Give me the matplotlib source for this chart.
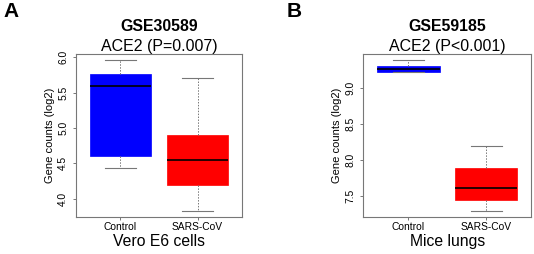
import matplotlib.pyplot as plt

plt.rcParams["font.family"] = ["Liberation Sans", "DejaVu Sans"]

GROUPS = ["Control", "SARS-CoV"]
BOX_COLORS = ["#0000ff", "#ff0000"]

# panel A: GSE30589, Vero E6 cells
A_WHISLO = [4.43, 3.83]
A_Q1 = [4.61, 4.19]
A_MED = [5.60, 4.54]
A_Q3 = [5.77, 4.90]
A_WHISHI = [5.96, 5.70]
A_YTICKS = [4.0, 4.5, 5.0, 5.5, 6.0]

# panel B: GSE59185, mice lungs
B_WHISLO = [9.22, 7.30]
B_Q1 = [9.225, 7.45]
B_MED = [9.27, 7.61]
B_Q3 = [9.315, 7.89]
B_WHISHI = [9.39, 8.20]
B_YTICKS = [7.5, 8.0, 8.5, 9.0]

GRAY = "#777777"


def draw(ax, whislo, q1, med, q3, whishi, yticks, gse, subtitle, xlabel):
    stats = [dict(whislo=lo, q1=a, med=m, q3=b, whishi=hi, fliers=[])
             for lo, a, m, b, hi in zip(whislo, q1, med, q3, whishi)]
    bp = ax.bxp(stats, positions=[1, 2], widths=0.8, patch_artist=True,
                showfliers=False,
                medianprops=dict(color="black", lw=1.2),
                whiskerprops=dict(color=GRAY, lw=0.7, linestyle=(0, (1.5, 1.5))),
                capprops=dict(color=GRAY, lw=0.8))
    for patch, col in zip(bp["boxes"], BOX_COLORS):
        patch.set_facecolor(col)
        patch.set_edgecolor(col)
        patch.set_linewidth(0.5)
    lo, hi = min(whislo), max(whishi)
    pad = (hi - lo) * 0.04
    ax.set_ylim(lo - pad, hi + pad)
    ax.set_xlim(0.42, 2.58)
    ax.set_yticks(yticks)
    ax.set_yticklabels([f"{t:.1f}" for t in yticks], rotation=90, va="center",
                       fontsize=7.4)
    ax.set_xticks([1, 2])
    ax.set_xticklabels(GROUPS, fontsize=7.4)
    ax.tick_params(colors=GRAY, labelcolor="black", length=2.5, width=0.7)
    ax.tick_params(axis="y", pad=3)
    ax.tick_params(axis="x", pad=1.5)
    for s in ax.spines.values():
        s.set_color(GRAY)
        s.set_linewidth(0.8)
    ax.set_ylabel("Gene counts (log2)", fontsize=8, labelpad=2.5)
    ax.set_xlabel(xlabel, fontsize=11.3, labelpad=1)
    ax.text(0.5, 1.17, gse, transform=ax.transAxes, ha="center", va="center",
            fontsize=11.4, fontweight="bold")
    ax.text(0.5, 1.045, subtitle, transform=ax.transAxes, ha="center",
            va="center", fontsize=11.5)


fig = plt.figure(figsize=(5.34, 2.54), dpi=100)
ax1 = fig.add_axes([0.1418, 0.147, 0.312, 0.640])
ax2 = fig.add_axes([0.6803, 0.147, 0.3146, 0.640])

draw(ax1, A_WHISLO, A_Q1, A_MED, A_Q3, A_WHISHI, A_YTICKS,
     "GSE30589", "ACE2 (P=0.007)", "Vero E6 cells")
draw(ax2, B_WHISLO, B_Q1, B_MED, B_Q3, B_WHISHI, B_YTICKS,
     "GSE59185", "ACE2 (P<0.001)", "Mice lungs")

fig.text(0.006, 0.953, "A", fontsize=15, fontweight="bold", va="center")
fig.text(0.537, 0.953, "B", fontsize=15, fontweight="bold", va="center")

fig.savefig("out.png", dpi=100)
